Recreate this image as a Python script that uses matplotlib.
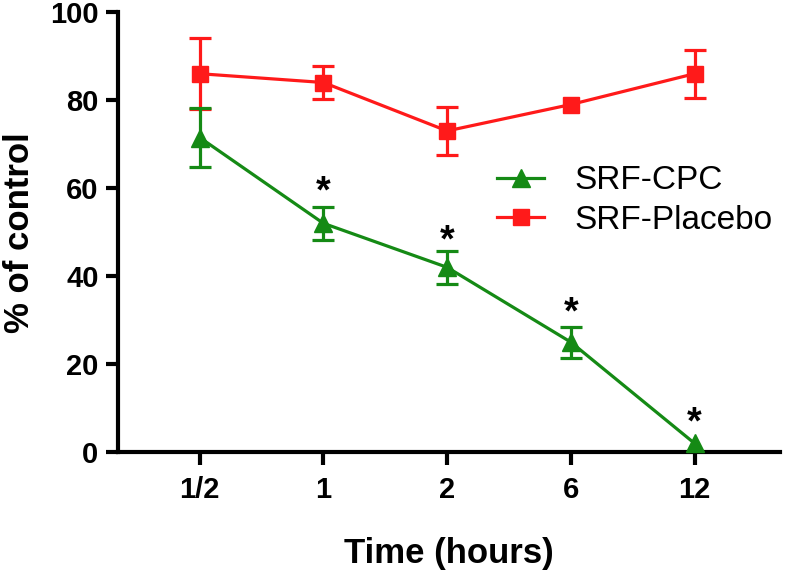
import matplotlib
matplotlib.use("Agg")
import matplotlib.pyplot as plt
from matplotlib.lines import Line2D
import numpy as np

plt.rcParams['font.family'] = ['Liberation Sans', 'DejaVu Sans']

time_labels = ["1/2", "1", "2", "6", "12"]
cpc_mean = [71.5, 52.0, 42.0, 25.0, 2.0]
cpc_err = [6.8, 3.7, 3.7, 3.5, 0.0]
placebo_mean = [86.0, 84.0, 73.0, 79.0, 86.0]
placebo_err = [8.0, 3.7, 5.5, 0.0, 5.5]
star_y = [61.5, 50.5, 34.0, 9.0]
star_idx = [1, 2, 3, 4]

GREEN = '#158a15'
RED = '#ff1a1a'
LW = 2.3

fig = plt.figure(figsize=(7.87, 5.76), dpi=100)
ax = fig.add_axes([0.150, 0.215, 0.841, 0.764])

x = np.arange(len(time_labels))

def draw(mean, err, color, marker, ms, label, z):
    mean = np.asarray(mean)
    err = np.asarray(err)
    ax.plot(x, mean, color=color, lw=LW, marker=marker, markersize=ms,
            zorder=z, clip_on=False)
    m = err > 0
    ax.errorbar(x[m], mean[m], yerr=err[m], fmt='none', ecolor=color,
                capsize=8, capthick=LW, elinewidth=LW, zorder=z)
    return Line2D([], [], color=color, lw=LW, marker=marker,
                  markersize=ms, label=label)

h1 = draw(cpc_mean, cpc_err, GREEN, '^', 13, 'SRF-CPC', 3)
h2 = draw(placebo_mean, placebo_err, RED, 's', 11, 'SRF-Placebo', 2)

for i, sy in zip(star_idx, star_y):
    ax.text(x[i], sy - 4.8, '*', ha='center', va='baseline', fontsize=27,
            fontweight='bold', color='black')

ax.set_xlim(-0.66, 4.69)
ax.set_ylim(0, 100)
ax.set_yticks([0, 20, 40, 60, 80, 100])
ax.set_xticks(x)
ax.set_xticklabels(time_labels)

for s in ['top', 'right']:
    ax.spines[s].set_visible(False)
for s in ['left', 'bottom']:
    ax.spines[s].set_linewidth(3)

ax.tick_params(axis='both', direction='out', length=9, width=3,
               labelsize=21)
ax.tick_params(axis='y', pad=5)
ax.tick_params(axis='x', pad=8)
for lab in ax.get_xticklabels() + ax.get_yticklabels():
    lab.set_fontweight('bold')

ax.set_xlabel('Time (hours)', fontsize=25, fontweight='bold', labelpad=24)
ax.set_ylabel('% of control', fontsize=25, fontweight='bold', labelpad=10)

leg = ax.legend(handles=[h1, h2], loc='upper left',
                bbox_to_anchor=(0.553, 0.682), frameon=False, fontsize=24,
                handlelength=1.4, handletextpad=0.9, labelspacing=0.25,
                borderaxespad=0)

fig.savefig('out.png', dpi=100)
